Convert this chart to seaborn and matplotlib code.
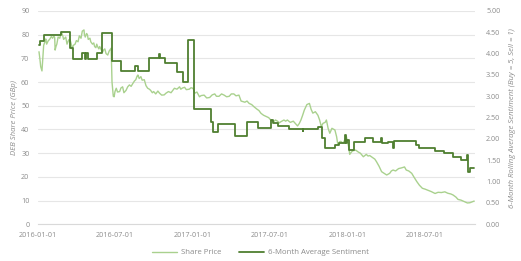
import matplotlib
matplotlib.use("Agg")
import matplotlib.pyplot as plt
import matplotlib.dates as mdates
import matplotlib.ticker as mticker
import pandas as pd
import seaborn as sns

# ---- data ----
price_dates = [
    "2016-01-04", "2016-01-06", "2016-01-08", "2016-01-11", "2016-01-13", "2016-01-15", "2016-01-18",
    "2016-01-20", "2016-01-22", "2016-01-26", "2016-01-29", "2016-02-02", "2016-02-05", "2016-02-08",
    "2016-02-10", "2016-02-11", "2016-02-13", "2016-02-15", "2016-02-18", "2016-02-22", "2016-02-24",
    "2016-02-26", "2016-02-29", "2016-03-02", "2016-03-07", "2016-03-10", "2016-03-14", "2016-03-17",
    "2016-03-20", "2016-03-22", "2016-03-25", "2016-03-29", "2016-04-01", "2016-04-05", "2016-04-08",
    "2016-04-12", "2016-04-15", "2016-04-19", "2016-04-20", "2016-04-22", "2016-04-25", "2016-04-27",
    "2016-04-29", "2016-05-03", "2016-05-05", "2016-05-09", "2016-05-12", "2016-05-14", "2016-05-17",
    "2016-05-19", "2016-05-21", "2016-05-24", "2016-05-26", "2016-05-30", "2016-06-02", "2016-06-04",
    "2016-06-07", "2016-06-10", "2016-06-14", "2016-06-17", "2016-06-22", "2016-06-24", "2016-06-27",
    "2016-06-29", "2016-07-01", "2016-07-04", "2016-07-07", "2016-07-12", "2016-07-15", "2016-07-19",
    "2016-07-22", "2016-07-27", "2016-07-31", "2016-08-04", "2016-08-08", "2016-08-12", "2016-08-16",
    "2016-08-19", "2016-08-22", "2016-08-24", "2016-08-27", "2016-08-31", "2016-09-03", "2016-09-08",
    "2016-09-12", "2016-09-16", "2016-09-20", "2016-09-23", "2016-09-27", "2016-09-30", "2016-10-05",
    "2016-10-10", "2016-10-14", "2016-10-19", "2016-10-25", "2016-10-29", "2016-11-04", "2016-11-10",
    "2016-11-18", "2016-11-24", "2016-11-30", "2016-12-03", "2016-12-07", "2016-12-12", "2016-12-16",
    "2016-12-23", "2016-12-27", "2016-12-30", "2017-01-02", "2017-01-05", "2017-01-10", "2017-01-16",
    "2017-01-20", "2017-01-27", "2017-02-02", "2017-02-09", "2017-02-15", "2017-02-21", "2017-02-25",
    "2017-03-03", "2017-03-09", "2017-03-15", "2017-03-21", "2017-03-27", "2017-04-01", "2017-04-07",
    "2017-04-12", "2017-04-19", "2017-04-24", "2017-05-03", "2017-05-08", "2017-05-13", "2017-05-19",
    "2017-05-25", "2017-06-01", "2017-06-05", "2017-06-10", "2017-06-16", "2017-06-22", "2017-06-28",
    "2017-07-03", "2017-07-10", "2017-07-14", "2017-07-19", "2017-07-23", "2017-07-27", "2017-08-03",
    "2017-08-07", "2017-08-11", "2017-08-18", "2017-08-25", "2017-08-30", "2017-09-04", "2017-09-08",
    "2017-09-12", "2017-09-16", "2017-09-20", "2017-09-26", "2017-10-02", "2017-10-06", "2017-10-10",
    "2017-10-16", "2017-10-22", "2017-10-26", "2017-10-30", "2017-11-03", "2017-11-08", "2017-11-11",
    "2017-11-15", "2017-11-19", "2017-11-24", "2017-12-01", "2017-12-05", "2017-12-08", "2017-12-12",
    "2017-12-15", "2017-12-20", "2017-12-24", "2017-12-28", "2018-01-02", "2018-01-05", "2018-01-09",
    "2018-01-12", "2018-01-19", "2018-01-25", "2018-01-30", "2018-02-06", "2018-02-13", "2018-02-17",
    "2018-02-21", "2018-03-01", "2018-03-05", "2018-03-09", "2018-03-15", "2018-03-21", "2018-03-27",
    "2018-04-02", "2018-04-09", "2018-04-13", "2018-04-17", "2018-04-23", "2018-04-30", "2018-05-07",
    "2018-05-14", "2018-05-18", "2018-05-24", "2018-05-31", "2018-06-05", "2018-06-12", "2018-06-18",
    "2018-06-25", "2018-07-02", "2018-07-09", "2018-07-16", "2018-07-25", "2018-08-01", "2018-08-09",
    "2018-08-17", "2018-08-24", "2018-08-31", "2018-09-05", "2018-09-12", "2018-09-17", "2018-09-24",
    "2018-10-03", "2018-10-09", "2018-10-15", "2018-10-19", "2018-10-25",
]
price_values = [
    72.8, 70.0, 66.5, 64.7, 70.0, 75.5, 77.0,
    78.2, 76.0, 77.5, 78.0, 79.2, 78.5, 79.5,
    78.7, 73.5, 75.0, 76.0, 79.0, 78.5, 80.0,
    81.0, 79.5, 78.0, 79.0, 76.0, 77.8, 78.0,
    76.0, 74.0, 75.5, 76.0, 77.5, 77.0, 79.5,
    78.5, 81.5, 82.0, 80.0, 79.0, 80.5, 80.0,
    78.0, 78.5, 77.0, 76.0, 76.5, 75.0, 74.5,
    76.0, 75.0, 74.0, 75.0, 73.5, 72.7, 73.5,
    74.0, 72.0, 71.4, 73.0, 74.3, 60.0, 54.0,
    53.8, 56.0, 57.4, 55.8, 56.0, 57.5, 58.0,
    55.5, 56.5, 58.0, 58.8, 58.2, 59.4, 60.5,
    61.0, 62.5, 63.0, 61.5, 62.3, 60.8, 61.0,
    58.5, 57.4, 57.0, 56.5, 55.5, 56.0, 55.0,
    56.2, 55.3, 54.5, 54.6, 55.3, 56.0, 55.5,
    57.4, 57.0, 58.0, 57.0, 57.5, 57.8, 56.8,
    57.0, 57.6, 57.5, 57.0, 55.3, 55.8, 53.8,
    54.3, 54.5, 53.3, 53.5, 54.6, 55.0, 54.0,
    54.0, 55.0, 54.5, 53.8, 54.0, 55.0, 55.0,
    54.2, 54.5, 52.0, 51.5, 52.0, 51.0, 50.5,
    49.5, 48.5, 48.0, 46.8, 46.0, 45.5, 45.0,
    44.0, 43.3, 44.0, 43.5, 42.8, 43.3, 44.0,
    43.5, 44.0, 43.0, 43.5, 42.5, 41.5, 42.5,
    44.0, 46.0, 48.2, 50.5, 51.0, 48.5, 46.9,
    47.5, 46.0, 44.0, 41.2, 42.6, 43.0, 44.0,
    40.5, 38.4, 40.5, 39.8, 37.0, 33.5, 34.8,
    35.0, 34.2, 35.5, 37.0, 33.0, 29.5, 30.5,
    31.0, 31.3, 30.5, 30.0, 28.5, 29.5, 28.8,
    29.0, 28.0, 27.5, 26.4, 24.5, 22.2, 21.5,
    20.8, 21.5, 22.5, 22.9, 22.5, 23.5, 23.8,
    24.2, 22.9, 22.5, 21.5, 20.0, 18.0, 16.5,
    15.2, 14.8, 14.3, 13.8, 13.0, 13.5, 13.4,
    13.7, 13.1, 12.8, 12.4, 11.5, 10.5, 10.2,
    9.5, 9.0, 9.1, 9.4, 9.8,
]

sent_dates = [
    "2016-01-04", "2016-01-06", "2016-01-15", "2016-02-24", "2016-03-17", "2016-03-24", "2016-04-14",
    "2016-04-21", "2016-04-24", "2016-04-28", "2016-05-19", "2016-05-31", "2016-06-23", "2016-07-14",
    "2016-08-18", "2016-08-24", "2016-09-18", "2016-10-13", "2016-10-16", "2016-10-27", "2016-11-24",
    "2016-12-08", "2016-12-21", "2017-01-03", "2017-02-13", "2017-02-16", "2017-02-28", "2017-04-10",
    "2017-05-09", "2017-06-03", "2017-07-04", "2017-07-08", "2017-07-20", "2017-08-16", "2017-09-16",
    "2017-09-18", "2017-10-23", "2017-11-01", "2017-11-07", "2017-12-01", "2017-12-10", "2017-12-24",
    "2017-12-26", "2017-12-30", "2018-01-03", "2018-01-15", "2018-02-11", "2018-03-01", "2018-03-19",
    "2018-03-22", "2018-04-06", "2018-04-17", "2018-04-19", "2018-06-09", "2018-06-17", "2018-07-24",
    "2018-08-14", "2018-09-05", "2018-09-25", "2018-10-09", "2018-10-11", "2018-10-15", "2018-10-25",
]
sent_values = [
    4.20, 4.30, 4.44, 4.50, 4.13, 3.87, 4.01,
    3.87, 4.01, 3.87, 4.01, 4.48, 3.83, 3.60,
    3.71, 3.60, 3.89, 4.00, 3.89, 3.77, 3.58,
    3.33, 4.33, 2.70, 2.40, 2.17, 2.34, 2.08,
    2.40, 2.25, 2.44, 2.37, 2.30, 2.23, 2.19,
    2.23, 2.29, 2.02, 1.78, 1.86, 1.90, 2.10,
    1.90, 1.97, 1.74, 1.94, 2.02, 1.94, 2.02,
    1.90, 1.94, 1.80, 1.95, 1.86, 1.78, 1.72,
    1.66, 1.58, 1.50, 1.62, 1.23, 1.31, 1.31,
]

left_ticks = [0, 10, 20, 30, 40, 50, 60, 70, 80, 90]
right_ticks = [0.0, 0.5, 1.0, 1.5, 2.0, 2.5, 3.0, 3.5, 4.0, 4.5, 5.0]
x_ticks = ["2016-01-01", "2016-07-01", "2017-01-01", "2017-07-01", "2018-01-01", "2018-07-01"]

price_df = pd.DataFrame({"Date": pd.to_datetime(price_dates), "Price": price_values})
sent_df = pd.DataFrame({"Date": pd.to_datetime(sent_dates), "Sentiment": sent_values})

# ---- style ----
sns.set_style("white")
plt.rcParams["font.family"] = ["Open Sans", "DejaVu Sans"]

LIGHT = "#a9d18e"
DARK = "#4f7f30"
GRID = "#e6e6e6"
TXT = "#8c8c8c"

fig = plt.figure(figsize=(5.21, 2.61), dpi=100)
ax = fig.add_axes([0.0724, 0.1406, 0.8393, 0.8174])
ax2 = ax.twinx()

sns.lineplot(data=price_df, x="Date", y="Price", ax=ax, color=LIGHT, lw=1.0,
             label="Share Price", legend=False)
sns.lineplot(data=sent_df, x="Date", y="Sentiment", ax=ax2, color=DARK, lw=1.3,
             drawstyle="steps-post", label="6-Month Average Sentiment", legend=False)

ax.set_ylim(0, 90)
ax2.set_ylim(0, 5)
ax.set_xlim(pd.Timestamp("2016-01-01"), pd.Timestamp("2018-10-27"))
ax.set_yticks(left_ticks)
ax2.set_yticks(right_ticks)
ax2.yaxis.set_major_formatter(mticker.FormatStrFormatter("%.2f"))
ax.set_xticks(pd.to_datetime(x_ticks))
ax.xaxis.set_major_formatter(mdates.DateFormatter("%Y-%m-%d"))

ax.grid(axis="y", color=GRID, lw=0.8)
ax.set_axisbelow(True)
ax2.grid(False)

for a in (ax, ax2):
    for s in a.spines.values():
        s.set_visible(False)
ax.spines["bottom"].set_visible(True)
ax.spines["bottom"].set_color("#d9d9d9")
ax.spines["bottom"].set_linewidth(0.8)

ax.tick_params(axis="x", colors=TXT, labelsize=5.2, length=2.5, width=0.6, color="#d9d9d9", pad=3)
ax.tick_params(axis="y", colors=TXT, labelsize=5.2, length=0, pad=6)
ax2.tick_params(axis="y", colors=TXT, labelsize=5.2, length=0, pad=8)

ax.set_xlabel("")
ax.set_ylabel("DEB Share Price (GBp)", color=TXT, fontsize=5.6, style="italic", labelpad=2)
ax2.set_ylabel("6-Month Rolling Average Sentiment (Buy = 5, Sell = 1)", color=TXT,
               fontsize=5.6, style="italic", labelpad=6)

h1, l1 = ax.get_legend_handles_labels()
h2, l2 = ax2.get_legend_handles_labels()
fig.legend(h1 + h2, l1 + l2, loc="center", bbox_to_anchor=(0.5, 0.032), ncol=2, frameon=False,
           fontsize=5.6, labelcolor=TXT, handlelength=3.2, columnspacing=2.2, handletextpad=0.5)

fig.savefig("out.png", dpi=100)
